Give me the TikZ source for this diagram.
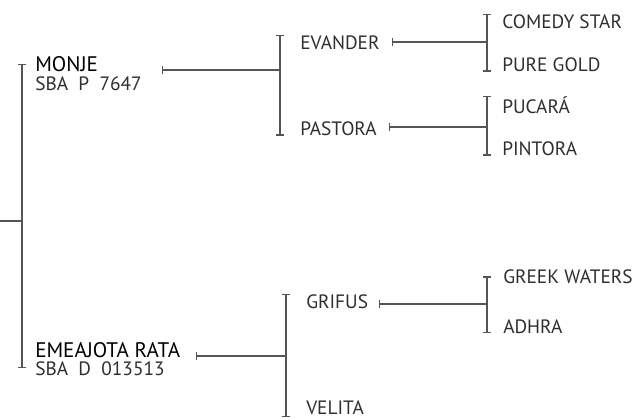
\documentclass[tikz,border=0pt]{standalone}
\usepackage{fontspec}
\setmainfont{PT Sans}
\usetikzlibrary{arrows.meta,positioning}
\definecolor{pdline}{HTML}{555555}
\definecolor{pdtext}{HTML}{2E2E2E}

\begin{document}
\begin{tikzpicture}[x=0.75pt, y=-0.75pt,
  horse/.style={inner sep=0pt, anchor=base west, text=pdtext, font=\fontsize{14.5}{17}\selectfont},
  sire/.style={horse, text=black, font=\fontsize{15.8}{18}\selectfont},
  link/.style={draw=pdline, line width=1.1pt},
  bar/.style={link, {Bar[width=6pt]}-{Bar[width=6pt]}},
  stub/.style={link, {Bar[width=6pt]}-}]
  \useasboundingbox (0,0) rectangle (633,419);

  % generation 1
  \node[sire] (monje) at (35,71) {MONJE};
  \node[horse] (monjeReg) at (35,90) {SBA\ \ P\ \ 7647};
  \node[sire] (emea) at (35,357) {EMEAJOTA RATA};
  \node[horse] (emeaReg) at (35,375) {SBA\ \ D\ \ 013513};

  % generation 2
  \node[horse] (evander) at (300,49) {EVANDER};
  \node[horse] (pastora) at (300,135) {PASTORA};
  \node[horse] (grifus) at (306,308) {GRIFUS};
  \node[horse] (velita) at (306,414) {VELITA};

  % generation 3
  \node[horse] (comedy) at (502,28) {COMEDY STAR};
  \node[horse] (pure) at (502,71) {PURE GOLD};
  \node[horse] (pucara) at (502,113) {PUCARÁ};
  \node[horse] (pintora) at (502,155) {PINTORA};
  \node[horse] (greek) at (503,283) {GREEK WATERS};
  \node[horse] (adhra) at (503,333) {ADHRA};

  % junctions and line starts
  \coordinate (root) at (0,221);
  \coordinate (j0) at (22,221);
  \coordinate (sM) at (162,70);
  \coordinate (jM) at (280,70);
  \coordinate (sR) at (196,356);
  \coordinate (jR) at (286,356);
  \coordinate (sE) at (392,42);
  \coordinate (jE) at (487,42);
  \coordinate (sP) at (389,127);
  \coordinate (jP) at (487,127);
  \coordinate (sG) at (379,304);
  \coordinate (jG) at (487,304);

  \draw[link] (root) -- (j0);
  \draw[bar] (monje.west -| j0) -- (emeaReg.west -| j0);

  \draw[stub] (sM) -- (jM);
  \draw[bar] (evander.north -| jM) -- (pastora.south -| jM);
  \draw[stub] (sR) -- (jR);
  \draw[bar] (grifus.north -| jR) -- ([yshift=-2pt]velita.south -| jR);

  \draw[stub] (sE) -- (jE);
  \draw[bar] (comedy.north -| jE) -- (pure.south -| jE);
  \draw[stub] (sP) -- (jP);
  \draw[bar] (pucara.north -| jP) -- (pintora.south -| jP);
  \draw[stub] (sG) -- (jG);
  \draw[bar] (greek.west -| jG) -- (adhra.south -| jG);
\end{tikzpicture}
\end{document}
